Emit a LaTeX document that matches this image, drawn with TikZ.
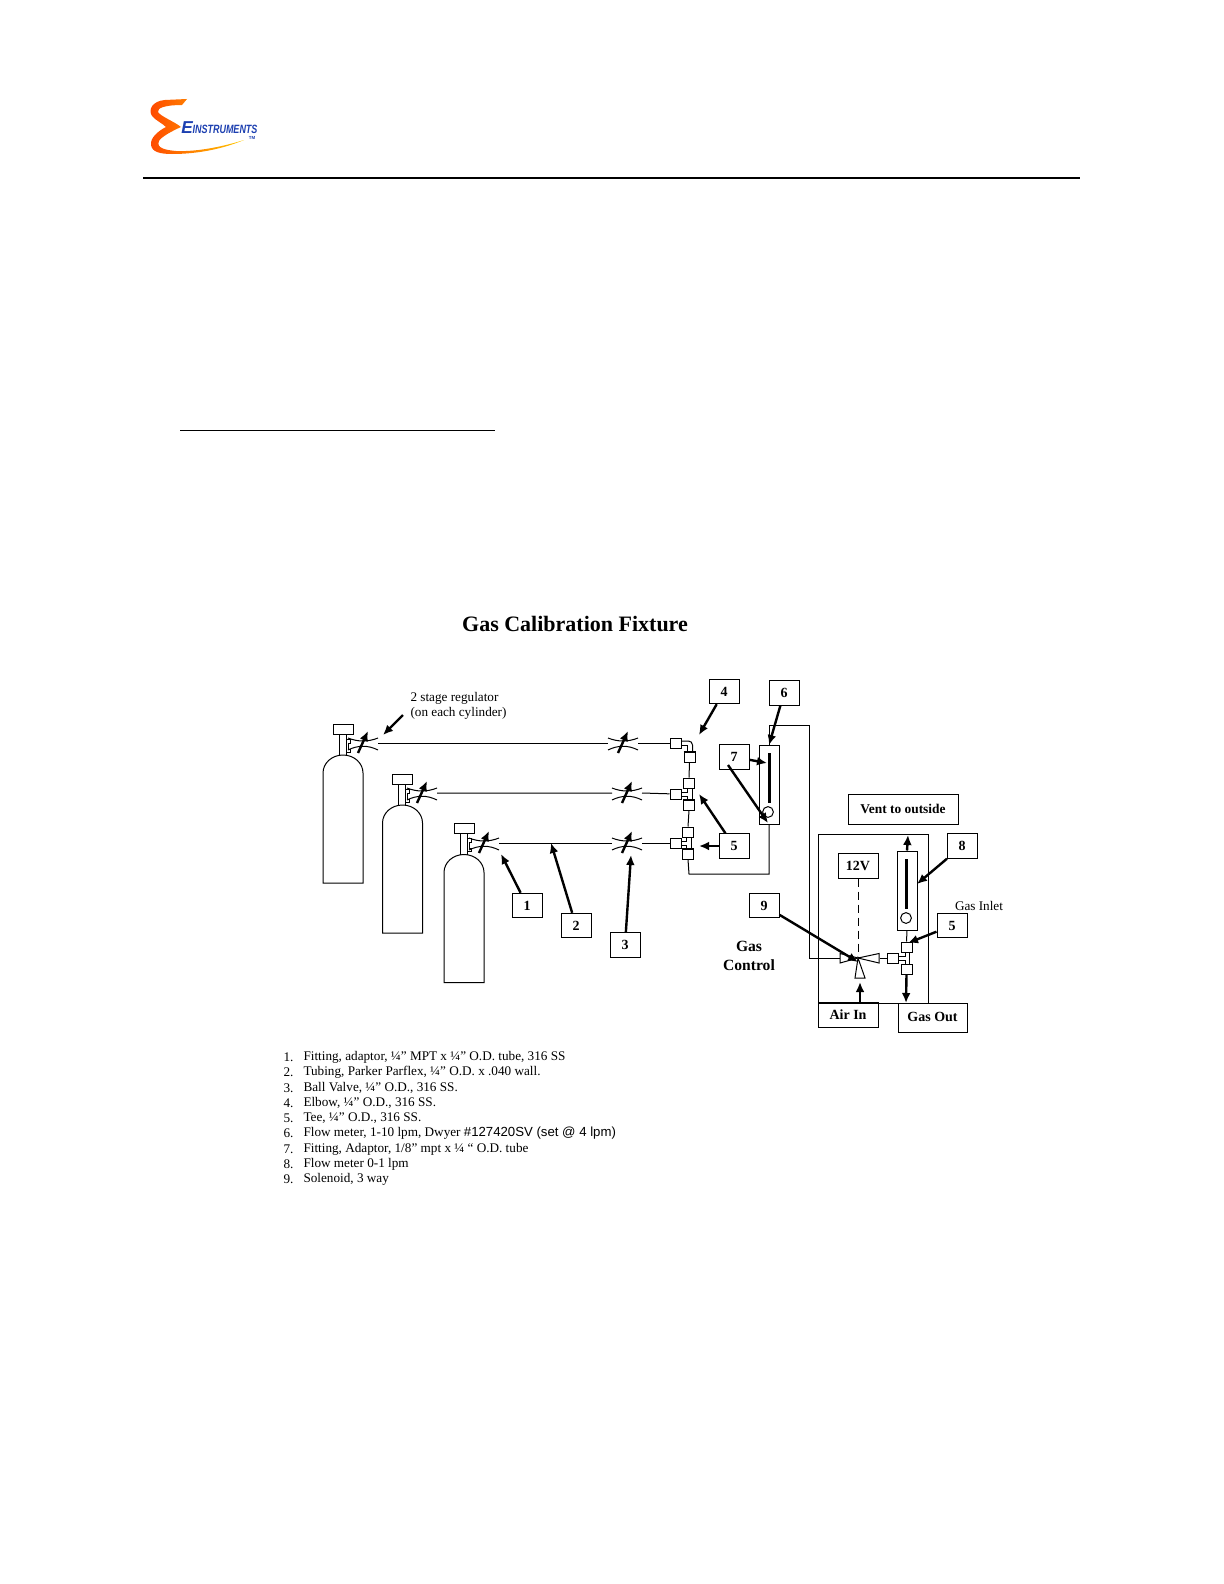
\documentclass[tikz,border=0pt]{standalone}
\usepackage{fontspec}
\setmainfont{Liberation Serif}
\setsansfont{Liberation Sans}
\usetikzlibrary{arrows.meta}
\begin{document}
\begin{tikzpicture}[>={Latex[length=5pt,width=4.4pt]},x=0.5pt,y=-0.5pt,line width=0.5pt,
	labbox/.style={draw,inner sep=0pt,font=\fontsize{7}{8}\selectfont\bfseries,minimum width=15pt,minimum height=12.2pt},
	fitbox/.style={draw,inner sep=0pt,minimum width=5.5pt,minimum height=5pt},
	metbox/.style={draw,inner sep=0pt,minimum width=10pt,minimum height=39.5pt},
	txt/.style={inner sep=0pt,font=\fontsize{6.6}{7.6}\selectfont},
	item/.style={txt,anchor=west},
	heavy/.style={line width=1.2pt},
	tank/.pic={
		\draw (0,128)--(0,18) .. controls (0,8) and (9,0) .. (20,0) .. controls (31,0) and (40,8) .. (40,18)--(40,128)--cycle;
		\draw (16,-21)--(16,0) (23,-21)--(23,0);
		\draw (10,-31) rectangle (30,-21);
		\draw (23,-16)--(27,-16)--(27,-12)--(25,-12)--(25,-6)--(27,-6)--(27,-3)--(23,-3);
	},
	valve/.pic={
		\coordinate (-in) at (-15,0);
		\coordinate (-out) at (15,0);
		\draw (-15,-5) .. controls (-5,-1) and (5,-1) .. (15,-5);
		\draw (-15,7) .. controls (-5,2) and (5,2) .. (15,7);
		\draw[->,heavy] (-5,10)--(5,-12);
	}]
	\useasboundingbox (0,0) rectangle (1224,1584);
	% logo
	\shade[left color=red!45!orange,right color=yellow!60!orange] (187,99)--(165,100) .. controls (152,101) and (148,110) .. (152,116) .. controls (155,120) and (162,123) .. (166,127) .. controls (158,131) and (150,138) .. (151,145) .. controls (152,152) and (160,154) .. (172,154) .. controls (200,154) and (225,148) .. (244,140) .. controls (225,146) and (198,152) .. (176,151) .. controls (165,150) and (156,148) .. (159,141) .. controls (161,137) and (172,131) .. (181,127) .. controls (175,122) and (160,116) .. (158,112) .. controls (157,108) and (165,105) .. (182,105)--cycle;
	\definecolor{logoblue}{HTML}{1C3FB0}
	\node[inner sep=0pt,text=logoblue,font=\fontsize{8.6}{9}\selectfont\sffamily\bfseries\itshape] (logoe) at (187,127.5) {E};
	\node[inner sep=0pt,text=logoblue,xscale=.75,font=\fontsize{6}{6}\selectfont\sffamily\bfseries\itshape] (logotext) at (225,129) {INSTRUMENTS};
	\node[inner sep=0pt,text=logoblue,font=\fontsize{2.2}{3}\selectfont\sffamily\bfseries] (logotm) at (252,138) {TM};
	% rules
	\draw[line width=1pt] (143,178)--(1080,178);
	\draw (180,430)--(495,430);
	\node[inner sep=0pt,font=\fontsize{11}{12}\selectfont\bfseries] (title) at (575,624) {Gas Calibration Fixture};
	% cylinders
	\pic at (323,755) {tank};
	\pic at (382.5,805) {tank};
	\pic at (444,854.5) {tank};
	\pic (reg1) at (363,743) {valve};
	\pic (reg2) at (422,793) {valve};
	\pic (reg3) at (484,843) {valve};
	\pic (val1) at (623,743) {valve};
	\pic (val2) at (627,793) {valve};
	\pic (val3) at (627,843) {valve};
	% fittings
	\node[fitbox] (fit1) at (675.5,743) {};
	\node[fitbox] (elb1) at (689.5,757) {};
	\node[fitbox] (fit2) at (675.5,794) {};
	\node[fitbox] (tee2a) at (689,783) {};
	\node[fitbox] (tee2b) at (689,805) {};
	\node[fitbox] (fit3) at (675.5,843) {};
	\node[fitbox] (tee3a) at (688,832) {};
	\node[fitbox] (tee3b) at (688,854) {};
	\coordinate (low1) at (689,874);
	\coordinate (low2) at (769,874);
	\coordinate (up1) at (769,725);
	\coordinate (up2) at (809,725);
	\coordinate (up3) at (809,958);
	\draw (reg1-out)--(val1-in) (val1-out)--(fit1);
	\draw (reg2-out)--(val2-in) (val2-out)--(fit2);
	\draw (reg3-out)--(val3-in) (val3-out)--(fit3);
	\draw[rounded corners=2pt] ([yshift=1pt]fit1.east)--++(11,0)--++(0,10);
	\draw ([yshift=-1pt]fit1.east)--++(6,0)--++(0,6);
	\draw (elb1.south)--(tee2a.north);
	\draw ([yshift=1pt]fit2.east)--++(6,0)--++(0,-4);
	\draw ([yshift=-1pt]fit2.east)--++(6,0)--++(0,4);
	\draw ([xshift=1.5pt]tee2a.south)--([xshift=1.5pt]tee2b.north);
	\draw (tee2b.south)--(tee3a.north);
	\draw ([yshift=1pt]fit3.east)--++(5,0)--++(0,-4);
	\draw ([yshift=-1pt]fit3.east)--++(5,0)--++(0,4);
	\draw ([xshift=1.5pt]tee3a.south)--([xshift=1.5pt]tee3b.north);
	\draw[line width=.9pt] (elb1.north west)--(elb1.north east) (tee2b.north west)--(tee2b.north east) (tee3b.north west)--(tee3b.north east);
	% flow meters
	\node[metbox] (met1) at (769,784.5) {};
	\node[metbox] (met2) at (907,890.5) {};
	\draw (tee3b.south)--(low1)--(low2)--(met1.south);
	\draw (met1.north)--(up1)--(up2)--(up3)--(840,958);
	\draw[line width=1.5pt] (769,753)--(769,803);
	\draw[fill=white] (768,812) circle (2.7pt);
	\draw[line width=1.5pt] (906,859)--(906,909);
	\draw[fill=white] (906,918) circle (2.7pt);
	% gas control
	\draw (818,834) rectangle (928,1003);
	\node[labbox,minimum width=55pt,minimum height=15pt,font=\fontsize{6.7}{8}\selectfont\bfseries] (vent) at (903,809) {\raisebox{.5pt}{Vent to outside}\hspace{4pt}};
	\node[labbox,minimum width=20pt] (volt) at (858,866) {12V};
	\node[labbox,minimum width=30pt] (air) at (848,1015) {Air In};
	\node[labbox,minimum width=34.5pt,minimum height=14.5pt] (gas) at (932.5,1017.5) {\raisebox{1pt}{Gas Out}};
	\node[fitbox] (tee4a) at (906.5,947) {};
	\node[fitbox] (tee4b) at (906.5,969) {};
	\node[fitbox] (fit4) at (893,958) {};
	\coordinate (sol) at (858,958);
	\coordinate (solout) at (880,958);
	\coordinate (solair) at (860,1002);
	\coordinate (solbot) at (860,982);
	\coordinate (ventin) at (908,835);
	\coordinate (gasin) at (906,1003);
	\draw[fill=white] (840,953.5)--(sol)--(840,963)--cycle;
	\draw[fill=white] (879,953.5)--(sol)--(879,963)--cycle;
	\draw[fill=white] (855,978)--(sol)--(865,978)--cycle;
	\draw[dash pattern=on 4pt off 2.5pt] (volt.south)--(sol);
	\draw (solout)--(fit4);
	\draw (met2.south)--(tee4a.north);
	\draw ([yshift=1pt]fit4.east)--++(6,0)--++(0,-4);
	\draw ([yshift=-1pt]fit4.east)--++(6,0)--++(0,4);
	\draw ([xshift=1.5pt]tee4a.south)--([xshift=1.5pt]tee4b.north);
	\draw[->,heavy] (solair)--(solbot);
	\draw[->,heavy] (met2.north)--(ventin);
	\draw[->,heavy] (tee4b.south)--(gasin);
	% labels
	\node[labbox] (lab1) at (527,905.5) {1};
	\node[labbox] (lab2) at (576,925.5) {2};
	\node[labbox] (lab3) at (625,945) {3};
	\node[labbox] (lab4) at (724,691.5) {4};
	\node[labbox] (lab5) at (734,846) {5};
	\node[labbox] (lab6) at (784,693) {6};
	\node[labbox] (lab7) at (734,757) {7};
	\node[labbox] (lab8) at (962,846) {8};
	\node[labbox] (lab9) at (764,905.5) {9};
	\node[labbox] (labc) at (952,925.5) {5};
	\coordinate (reghead) at (383,735);
	\coordinate (regtail) at (403,715);
	\coordinate (sevtail) at (728,765);
	\draw[->,heavy] (regtail)--(reghead);
	\draw[->,heavy] (lab1)--(501,854);
	\draw[->,heavy] (lab2)--(551,843);
	\draw[->,heavy] (lab3)--(631,855);
	\draw[->,heavy] (lab4)--(699,735);
	\draw[->,heavy] (lab5)--(699,794);
	\draw[->,heavy] (lab5)--(699,846);
	\draw[->,heavy] (lab6)--(769,745);
	\draw[->,heavy] (lab7)--(767,763);
	\draw[->,heavy] (sevtail)--(768,823);
	\draw[->,heavy] (lab8)--(917,884);
	\draw[->,heavy] (lab9)--(858,962);
	\draw[->,heavy] (labc)--(908,943);
	% texts
	\node[txt,anchor=west] (reg a) at (410,698) {2 stage regulator};
	\node[txt,anchor=west] (reg b) at (410,713.5) {(on each cylinder)};
	\node[txt] (inlet) at (979,906) {Gas Inlet};
	\node[inner sep=0pt,font=\fontsize{7.8}{9}\selectfont\bfseries] (ctl a) at (749,946) {Gas};
	\node[inner sep=0pt,font=\fontsize{7.8}{9}\selectfont\bfseries] (ctl b) at (749,965) {Control};
	\node[item] (num1) at (283,1057) {1.};
	\node[item] (num2) at (283,1072) {2.};
	\node[item] (num3) at (283,1088) {3.};
	\node[item] (num4) at (283,1103) {4.};
	\node[item] (num5) at (283,1118) {5.};
	\node[item] (num6) at (283,1133) {6.};
	\node[item] (num7) at (283,1149) {7.};
	\node[item] (num8) at (283,1164) {8.};
	\node[item] (num9) at (283,1179) {9.};
	\node[item] (item1) at (303,1057) {Fitting, adaptor, ¼” MPT x ¼” O.D. tube, 316 SS};
	\node[item] (item2) at (303,1072) {Tubing, Parker Parflex, ¼” O.D. x .040 wall.};
	\node[item] (item3) at (303,1088) {Ball Valve, ¼” O.D., 316 SS.};
	\node[item] (item4) at (303,1103) {Elbow, ¼” O.D., 316 SS.};
	\node[item] (item5) at (303,1118) {Tee, ¼” O.D., 316 SS.};
	\node[item] (item6) at (303,1133) {Flow meter, 1-10 lpm, Dwyer {\sffamily\fontsize{6.6}{7}\selectfont\#127420SV (set @ 4 lpm)}};
	\node[item] (item7) at (303,1149) {Fitting, Adaptor, 1/8” mpt x ¼ “ O.D. tube};
	\node[item] (item8) at (303,1164) {Flow meter 0-1 lpm};
	\node[item] (item9) at (303,1179) {Solenoid, 3 way};
\end{tikzpicture}
\end{document}
